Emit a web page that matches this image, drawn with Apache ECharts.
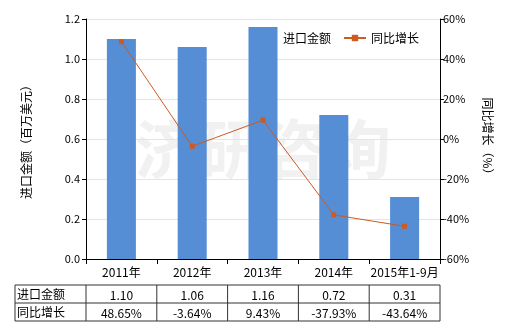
<!DOCTYPE html>
<html><head><meta charset="utf-8">
<script src="https://cdn.jsdelivr.net/npm/echarts@6/dist/echarts.min.js"></script>
<style>html,body{margin:0;padding:0;background:#fff}#c{width:520px;height:330px}</style>
</head><body><div id="c"></div>
<script>
const categories = ['2011年','2012年','2013年','2014年','2015年1-9月'];
const importValues = [1.10, 1.06, 1.16, 0.72, 0.31];
const growthValues = [48.65, -3.64, 9.43, -37.93, -43.64];
const leftTicks = [0, 0.2, 0.4, 0.6, 0.8, 1.0, 1.2];
const rightTicks = [-60, -40, -20, 0, 20, 40, 60];

const FONT = '"Noto Sans CJK SC", "Noto Sans", sans-serif';
const GL = 86, GR = 80, GT = 19, GH = 240;
const chart = echarts.init(document.getElementById('c'));

const plotW = 520 - GL - GR;
const colW = plotW / categories.length;
const tX0 = 15, tY0 = 285, rowH = 18;
const g = [];
const tx1 = GL + plotW;
g.push({type:'rect', shape:{x:tX0, y:tY0, width:tx1 - tX0, height:rowH*2}, style:{fill:'none', stroke:'#333', lineWidth:1}});
g.push({type:'line', shape:{x1:tX0, y1:tY0+rowH, x2:tx1, y2:tY0+rowH}, style:{stroke:'#333', lineWidth:1}});
for (let i = 0; i < categories.length; i++) {
  const x = GL + i*colW;
  g.push({type:'line', shape:{x1:x, y1:tY0, x2:x, y2:tY0+rowH*2}, style:{stroke:'#333', lineWidth:1}});
}
const rowLabels = ['进口金额','同比增长'];
rowLabels.forEach((t, r) => {
  g.push({type:'text', style:{text:t, x:tX0+2, y:tY0 + rowH*r + rowH/2, textVerticalAlign:'middle', font:'12px '+FONT, fill:'#000'}});
});
categories.forEach((c, i) => {
  const cx = GL + (i+0.5)*colW;
  g.push({type:'text', style:{text:importValues[i].toFixed(2), x:cx, y:tY0 + rowH/2 + 1, textAlign:'center', textVerticalAlign:'middle', font:'12px '+FONT, fill:'#000'}});
  g.push({type:'text', style:{text:growthValues[i].toFixed(2)+'%', x:cx, y:tY0 + rowH*1.5 + 1, textAlign:'center', textVerticalAlign:'middle', font:'12px '+FONT, fill:'#000'}});
});
g.push({type:'text', z:-1, style:{text:'济研咨询', x:GL + plotW/2, y:GT + GH/2 + 10, textAlign:'center', textVerticalAlign:'middle', font:'bold 64px '+FONT, fill:'rgba(200,200,200,0.25)'}});

chart.setOption({
  animation:false,
  textStyle:{fontFamily:FONT},
  grid:{left:GL, right:GR, top:GT, height:GH, containLabel:false},
  legend:{
    top:27, left:251, itemWidth:22, itemHeight:8, itemGap:12,
    textStyle:{fontSize:12, color:'#000', fontFamily:FONT},
    data:[{name:'进口金额', icon:'rect', itemStyle:{opacity:0}}, {name:'同比增长'}]
  },
  xAxis:{
    type:'category', data:categories,
    axisLine:{lineStyle:{color:'#000'}},
    axisTick:{show:true, alignWithLabel:false, lineStyle:{color:'#000'}},
    axisLabel:{color:'#000', fontSize:12, margin:7, interval:0}
  },
  yAxis:[
    {type:'value', min:0, max:1.2, interval:0.2, position:'left',
     name:'进口金额（百万美元）', nameLocation:'middle', nameGap:54, nameRotate:90,
     nameTextStyle:{fontSize:12, color:'#000'},
     axisLine:{show:true, lineStyle:{color:'#000'}}, axisTick:{show:true, length:4, lineStyle:{color:'#000'}},
     axisLabel:{color:'#000', fontSize:11, formatter:v=>v.toFixed(1), margin:6},
     splitLine:{lineStyle:{color:'#e4e4e4'}}},
    {type:'value', min:-60, max:60, interval:20, position:'right',
     name:'同比增长（%）', nameLocation:'middle', nameGap:42, nameRotate:-90,
     nameTextStyle:{fontSize:12, color:'#000'},
     axisLine:{show:true, lineStyle:{color:'#000'}}, axisTick:{show:true, length:4, lineStyle:{color:'#000'}},
     axisLabel:{color:'#000', fontSize:11, formatter:v=>v+'%', margin:3},
     splitLine:{show:false}}
  ],
  series:[
    {name:'进口金额', type:'bar', data:importValues, barWidth:'41%', itemStyle:{color:'#558ed5'}, yAxisIndex:0},
    {name:'同比增长', type:'line', data:growthValues, yAxisIndex:1, symbol:'rect', symbolSize:5,
     lineStyle:{color:'#cc5a22', width:1}, itemStyle:{color:'#cc5a22'}}
  ],
  graphic:g
});
</script></body></html>
